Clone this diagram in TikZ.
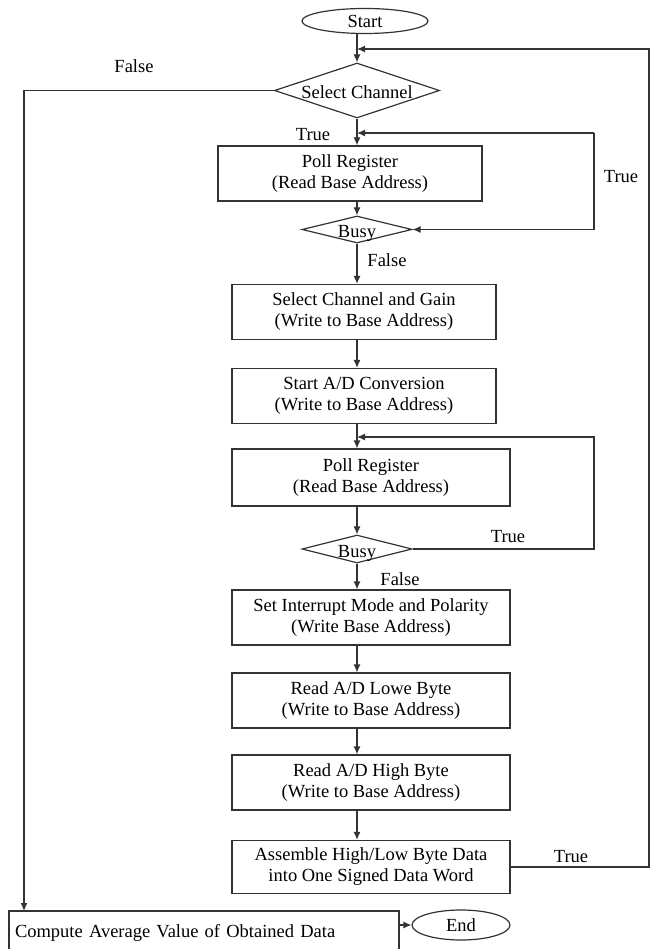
\documentclass[tikz,border=0pt]{standalone}
\usepackage{fontspec}
\setmainfont{Liberation Serif}
\usetikzlibrary{shapes,arrows.meta}

\begin{document}
\begin{tikzpicture}[x=1pt,y=-1pt,font=\fontsize{18.5}{21}\selectfont,
    term/.style={draw=black!80,ellipse,line width=1.2pt,inner sep=0pt},
    box/.style={draw=black!80,rectangle,line width=1.2pt,inner sep=0pt,align=center},
    decision/.style={draw=black!80,diamond,line width=1.2pt,inner sep=0pt,text height=16pt,text depth=0pt},
    line/.style={draw=black!80,line width=1.2pt,-{Latex[length=8pt,width=7pt]}},
    lbl/.style={inner sep=0pt}]
    \useasboundingbox (0,0) rectangle (651,949);

    \node[term,minimum width=126,minimum height=25] (start) at (365,21) {Start};
    \node[decision,minimum width=165,minimum height=55] (sel) at (357,90.5) {\makebox[0pt]{Select Channel}};
    \node[box,minimum width=264,minimum height=55] (poll1) at (350,173.5) {Poll Register\\(Read Base Address)};
    \node[decision,minimum width=110,minimum height=27] (busy1) at (357,229.5) {\makebox[0pt]{Busy}};
    \node[box,minimum width=264,minimum height=55] (gain) at (364,312) {Select Channel and Gain\\(Write to Base Address)};
    \node[box,minimum width=264,minimum height=55] (conv) at (364,396) {Start A/D Conversion\\(Write to Base Address)};
    \node[box,minimum width=278,minimum height=57] (poll2) at (371,477.5) {Poll Register\\(Read Base Address)};
    \node[decision,minimum width=110,minimum height=28] (busy2) at (357,549) {\makebox[0pt]{Busy}};
    \node[box,minimum width=278,minimum height=55] (irq) at (371,617.5) {Set Interrupt Mode and Polarity\\(Write Base Address)};
    \node[box,minimum width=278,minimum height=55] (low) at (371,700.5) {Read A/D Lowe Byte\\(Write to Base Address)};
    \node[box,minimum width=278,minimum height=55] (high) at (371,782.5) {Read A/D High Byte\\(Write to Base Address)};
    \node[box,minimum width=278,minimum height=53] (asm) at (371,867) {Assemble High/Low Byte Data\\into One Signed Data Word};
    \node[box,minimum width=390,minimum height=44,text width=378,align=left] (avg) at (204,933) {Compute Average Value of Obtained Data};
    \node[term,minimum width=98,minimum height=30] (end) at (461,925) {End};

    \node[lbl] (lf1) at (134,66) {False};
    \node[lbl] (lt1) at (313,135) {True};
    \node[lbl] (lt2) at (621,177) {True};
    \node[lbl] (lf2) at (387,260) {False};
    \node[lbl] (lt3) at (508,537) {True};
    \node[lbl] (lf3) at (400,579) {False};
    \node[lbl] (lt4) at (571,857) {True};

    \coordinate (j1) at (357,49);
    \coordinate (r1) at (649,49);
    \coordinate (j2) at (357,133);
    \coordinate (r2) at (594,133);
    \coordinate (j3) at (357,437);
    \coordinate (r3) at (594,437);
    \coordinate (f1) at (24,911);

    \draw[line] (start.south -| sel.north) -- (sel.north);
    \draw[line] (sel.south) -- (sel.south |- poll1.north);
    \draw[line] (poll1.south -| busy1.north) -- (busy1.north);
    \draw[line] (busy1.south) -- (busy1.south |- gain.north);
    \draw[line] (gain.south -| busy1.south) -- (conv.north -| busy1.south);
    \draw[line] (conv.south -| busy1.south) -- (poll2.north -| busy1.south);
    \draw[line] (poll2.south -| busy2.north) -- (busy2.north);
    \draw[line] (busy2.south) -- (busy2.south |- irq.north);
    \draw[line] (irq.south -| busy2.south) -- (low.north -| busy2.south);
    \draw[line] (low.south -| busy2.south) -- (high.north -| busy2.south);
    \draw[line] (high.south -| busy2.south) -- (asm.north -| busy2.south);

    \draw[line] (r2) -- (j2);
    \draw[line] (r2) |- (busy1.east);
    \draw[line] (busy2.east) -| (r3) -- (j3);
    \draw[line] (asm.east) -| (r1) -- (j1);
    \draw[line] (sel.west) -| (f1);
    \draw[line] (avg.east |- end.west) -- (end.west);
\end{tikzpicture}
\end{document}
